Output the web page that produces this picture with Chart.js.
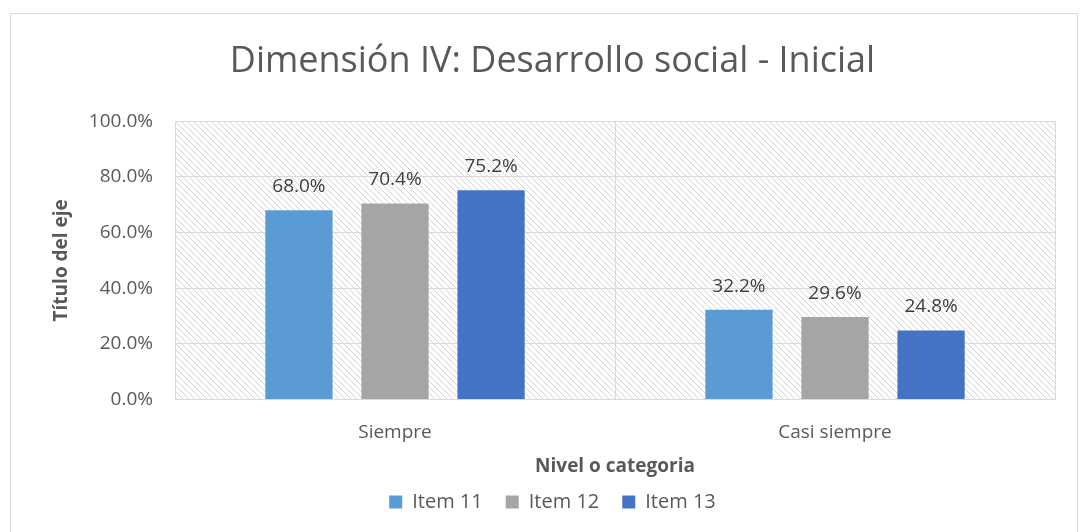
<!DOCTYPE html>
<html lang="es">
  <head>
    <meta charset="UTF-8" />
    <title>Dimensión IV: Desarrollo social - Inicial</title>
    <style>
      html, body { margin: 0; padding: 0; background: #fff; }
      .container { position: relative; width: 1080px; height: 532px; }
    </style>
  </head>
  <body>
    <div class="container">
      <canvas id="myChart"></canvas>
    </div>
  </body>
  <script src="https://cdn.jsdelivr.net/npm/chart.js"></script>
  <script>
    const categories = ['Siempre', 'Casi siempre'];
    const item11 = [68.0, 32.2];
    const item12 = [70.4, 29.6];
    const item13 = [75.2, 24.8];
    const yTicks = [0, 20, 40, 60, 80, 100];

    const FONT = "'Open Sans', 'Noto Sans', sans-serif";

    // diagonal hatch tile for the plot area
    const makeHatch = (ctx) => {
      const tile = document.createElement('canvas');
      tile.width = 6;
      tile.height = 6;
      const t = tile.getContext('2d');
      t.fillStyle = '#ffffff';
      t.fillRect(0, 0, 6, 6);
      t.strokeStyle = '#d4d4d4';
      t.lineWidth = 1;
      t.beginPath();
      t.moveTo(-1, -1); t.lineTo(7, 7);
      t.moveTo(-1, 5); t.lineTo(1, 7);
      t.moveTo(5, -1); t.lineTo(7, 1);
      t.stroke();
      return ctx.createPattern(tile, 'repeat');
    };

    const background = {
      id: 'background',
      beforeDraw(chart) {
        const { ctx, chartArea: a, width, height } = chart;
        ctx.save();
        ctx.strokeStyle = '#d9d9d9';
        ctx.lineWidth = 1;
        ctx.strokeRect(10.5, 13.5, width - 13, height - 10);
        ctx.fillStyle = makeHatch(ctx);
        ctx.fillRect(a.left, a.top, a.right - a.left, a.bottom - a.top);
        ctx.restore();
      },
    };

    const valueLabels = {
      id: 'valueLabels',
      afterDatasetsDraw(chart) {
        const { ctx } = chart;
        ctx.save();
        ctx.font = '19px ' + FONT;
        ctx.fillStyle = '#404040';
        ctx.textAlign = 'center';
        ctx.textBaseline = 'bottom';
        chart.data.datasets.forEach((ds, i) => {
          chart.getDatasetMeta(i).data.forEach((bar, j) => {
            ctx.fillText(ds.data[j].toFixed(1) + '%', bar.x, bar.y - 14);
          });
        });
        ctx.restore();
      },
    };

    const bar = (label, data, color) => ({
      label,
      data,
      backgroundColor: color,
      borderWidth: 0,
      categoryPercentage: 0.655,
      barPercentage: 0.7,
    });

    new Chart(document.getElementById('myChart'), {
      type: 'bar',
      data: {
        labels: categories,
        datasets: [
          bar('Item 11', item11, '#5b9bd5'),
          bar('Item 12', item12, '#a5a5a5'),
          bar('Item 13', item13, '#4472c4'),
        ],
      },
      options: {
        responsive: true,
        maintainAspectRatio: false,
        animation: false,
        layout: { padding: { left: 50, right: 25, top: 40, bottom: 10 } },
        plugins: {
          title: {
            display: true,
            text: 'Dimensión IV: Desarrollo social - Inicial',
            color: '#595959',
            font: { family: FONT, size: 36, weight: 'normal' },
            padding: { top: 0, bottom: 38 },
          },
          legend: {
            position: 'bottom',
            labels: {
              color: '#595959',
              font: { family: FONT, size: 20 },
              boxWidth: 13,
              boxHeight: 13,
              padding: 23,
            },
          },
          tooltip: { enabled: false },
        },
        scales: {
          x: {
            afterFit(axis) {
              axis.height -= 11;
            },
            grid: { color: '#d9d9d9', offset: true, drawTicks: false },
            border: { color: '#d9d9d9' },
            ticks: { color: '#595959', font: { family: FONT, size: 19 }, padding: 22 },
            title: {
              display: true,
              text: 'Nivel o categoria',
              color: '#595959',
              font: { family: FONT, size: 19, weight: 'bold' },
              padding: { top: 0, bottom: -9 },
            },
          },
          y: {
            min: 0,
            max: 100,
            afterBuildTicks(axis) {
              axis.ticks = yTicks.map((v) => ({ value: v }));
            },
            afterFit(axis) {
              axis.width = 125;
            },
            grid: { color: '#d9d9d9', drawTicks: false },
            border: { color: '#d9d9d9' },
            ticks: {
              color: '#595959',
              font: { family: FONT, size: 19 },
              padding: 22,
              callback: (v) => v.toFixed(1) + '%',
            },
            title: {
              display: true,
              text: 'Título del eje',
              color: '#595959',
              font: { family: FONT, size: 19, weight: 'bold' },
              padding: { top: 0, bottom: 9 },
            },
          },
        },
      },
      plugins: [background, valueLabels],
    });
  </script>
</html>
